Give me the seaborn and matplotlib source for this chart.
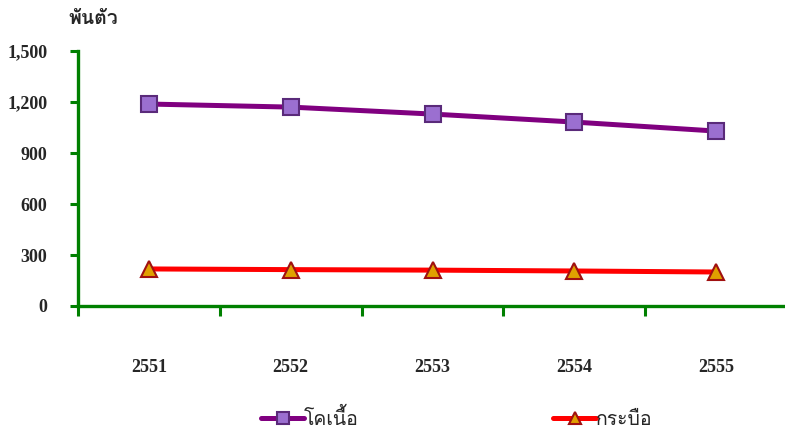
import pandas as pd
import seaborn as sns
import matplotlib.pyplot as plt
from matplotlib import font_manager
from matplotlib.ft2font import FT2Font
from matplotlib.lines import Line2D

years = ['2551', '2552', '2553', '2554', '2555']
cattle = [1188, 1170, 1129, 1082, 1029]
buffalo = [218, 214, 211, 206, 200]
series_names = ['โคเนื้อ', 'กระบือ']
y_ticks = [0, 300, 600, 900, 1200, 1500]
y_tick_labels = ['0', '300', '600', '900', '1,200', '1,500']
unit_label = 'พันตัว'


# find an installed font with Thai glyphs
def find_thai_font():
    for f in font_manager.fontManager.ttflist:
        try:
            if 0x0E1E in FT2Font(f.fname).get_charmap():
                return f.name
        except Exception:
            pass
    return 'DejaVu Sans'


thai_font = find_thai_font()

sns.set_style('white')
plt.rcParams['font.family'] = ['Liberation Serif', thai_font]

df = pd.DataFrame({'year': years * 2,
                   'value': cattle + buffalo,
                   'kind': [series_names[0]] * 5 + [series_names[1]] * 5})

fig = plt.figure(figsize=(7.85, 4.32), dpi=100)
ax = fig.add_axes([78 / 785, 1 - 306 / 432, 709 / 785, 255 / 432])

styles = {
    series_names[0]: dict(color='#800080', marker='s', markersize=11,
                          markerfacecolor='#9b6fd0', markeredgecolor='#5a2a7a'),
    series_names[1]: dict(color='#ff0000', marker='^', markersize=11,
                          markerfacecolor='#e0a000', markeredgecolor='#a01010'),
}
for name in series_names:
    sub = df[df['kind'] == name]
    sns.lineplot(data=sub, x='year', y='value', ax=ax, linewidth=3.6,
                 markeredgewidth=1.5, legend=False, **styles[name])

ax.set_xlim(-0.5, 4.5)
ax.set_ylim(0, 1500)
ax.set_xlabel('')
ax.set_ylabel('')
ax.set_yticks(y_ticks)
ax.set_yticklabels(y_tick_labels, fontsize=13, fontweight='bold')
ax.set_xticks(range(len(years)))
ax.set_xticklabels(years, fontsize=13, fontweight='bold')
ax.set_xticks([i - 0.5 for i in range(len(years) + 1)], minor=True)
ax.tick_params(axis='x', which='major', bottom=True, length=0, pad=38)
ax.tick_params(axis='x', which='minor', bottom=True, length=7, width=2.2,
               color='green', direction='out')
ax.tick_params(axis='y', left=True, length=6, width=2.2, color='green',
               direction='out', pad=16)
for s in ['top', 'right']:
    ax.spines[s].set_visible(False)
for s in ['left', 'bottom']:
    ax.spines[s].set_color('green')
    ax.spines[s].set_linewidth(2.4)

fig.text(68 / 785, 1 - 20 / 432, unit_label, fontsize=14, fontweight='bold',
         va='center', ha='left')

handles = [Line2D([], [], linewidth=3.6, markeredgewidth=1.5,
                  **{**styles[n], 'markersize': 9}) for n in series_names]
fig.legend(handles, series_names, loc='center', bbox_to_anchor=(0.582, 1 - 418 / 432),
           ncol=2, frameon=False, fontsize=14, columnspacing=10, handlelength=2.2,
           handletextpad=0.0)

fig.savefig('out.png', dpi=100)
